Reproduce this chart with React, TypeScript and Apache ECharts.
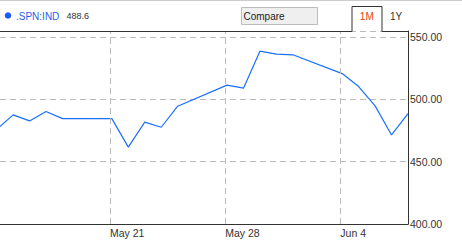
import React, { useEffect, useRef } from "react";
import * as echarts from "echarts";

// ---- data ----
const DATES = [
  "2012-05-14", "2012-05-15", "2012-05-16", "2012-05-17", "2012-05-18",
  "2012-05-21", "2012-05-22", "2012-05-23", "2012-05-24", "2012-05-25",
  "2012-05-28", "2012-05-29", "2012-05-30", "2012-05-31", "2012-06-01",
  "2012-06-04", "2012-06-05", "2012-06-06", "2012-06-07", "2012-06-08",
];
const VALUES = [
  476.0, 487.6, 482.8, 490.3, 484.6,
  484.6, 461.7, 481.8, 477.7, 494.6,
  511.5, 509.1, 538.8, 536.4, 535.9,
  520.8, 510.4, 494.9, 471.5, 488.6,
];
const SAMPLE_TIME = "T02:40:00";
const TICK_DATES = ["2012-05-21", "2012-05-28", "2012-06-04"];
const TICK_LABELS = ["May 21", "May 28", "Jun 4"];
const X_MIN = "2012-05-14T07:30:00";
const X_MAX = "2012-06-08T02:40:00";
const Y_MIN = 400;
const Y_MAX = 555;
const Y_INTERVAL = 50;
const SYMBOL = ".SPN:IND";
const LAST = "488.6";

const FONT = 'Arial, "Liberation Sans", sans-serif';

export default function App() {
  const ref = useRef<HTMLDivElement>(null);
  useEffect(() => {
    document.body.style.margin = "0";
    const chart = echarts.init(ref.current!, null, { renderer: "svg" });
    const seriesData = DATES.map((d, i) => [new Date(d + SAMPLE_TIME).getTime(), VALUES[i]]);
    const gridMarks = TICK_DATES.map((d, i) => ({
      xAxis: new Date(d + "T00:00:00").getTime(),
      label: { formatter: TICK_LABELS[i] },
    }));
    chart.setOption({
      animation: false,
      backgroundColor: "#ffffff",
      grid: { left: 0, right: 54, top: 31, bottom: 16, containLabel: false },
      xAxis: {
        type: "time",
        min: new Date(X_MIN).getTime(),
        max: new Date(X_MAX).getTime(),
        axisLine: { show: true, lineStyle: { color: "#333", width: 1 } },
        axisTick: { show: false },
        axisLabel: { show: false },
        splitLine: { show: false },
      },
      yAxis: {
        type: "value",
        position: "right",
        min: Y_MIN,
        max: Y_MAX,
        interval: Y_INTERVAL,
        axisLine: { show: true, lineStyle: { color: "#333", width: 1 } },
        axisTick: { show: false },
        axisLabel: {
          show: true,
          margin: 2,
          showMaxLabel: false,
          formatter: (v: number) => v.toFixed(2),
          color: "#333",
          fontSize: 10.5,
          fontFamily: FONT,
          padding: [3, 0, 0, 0],
        },
        splitLine: { show: true, lineStyle: { color: "#bbb", type: [6, 4], width: 1 } },
      },
      series: [
        {
          type: "line",
          data: seriesData,
          showSymbol: false,
          symbol: "none",
          clip: true,
          lineStyle: { color: "#1a6fff", width: 1.2 },
          markLine: {
            silent: true,
            symbol: "none",
            lineStyle: { color: "#bbb", type: [6, 4], width: 1 },
            label: {
              show: true,
              position: "start",
              distance: 3,
              align: "left",
              verticalAlign: "top",
              color: "#333",
              fontSize: 10.5,
              fontFamily: FONT,
            },
            data: gridMarks,
          },
        },
      ],
      graphic: [
        { type: "line", shape: { x1: 0, y1: 0.5, x2: 462, y2: 0.5 }, style: { stroke: "#ccc", lineWidth: 1 } },
        { type: "line", z: 100, shape: { x1: 0, y1: 31.5, x2: 352, y2: 31.5 }, style: { stroke: "#333", lineWidth: 1 } },
        { type: "line", z: 100, shape: { x1: 382, y1: 31.5, x2: 408.5, y2: 31.5 }, style: { stroke: "#333", lineWidth: 1 } },
        {
          type: "polyline",
          z: 100,
          shape: { points: [[352, 31.5], [352, 6.5], [382, 6.5], [382, 31.5]] },
          style: { stroke: "#333", lineWidth: 1, fill: null },
        },
        { type: "circle", shape: { cx: 8, cy: 15.5, r: 3.3 }, style: { fill: "#1a5cff" } },
        {
          type: "text", x: 16, y: 16,
          style: { text: SYMBOL, fill: "#2a5ee8", font: `10px ${FONT}`, verticalAlign: "middle", align: "left" },
        },
        {
          type: "text", x: 66.5, y: 16,
          style: { text: LAST, fill: "#333", font: `9px ${FONT}`, verticalAlign: "middle", align: "left" },
        },
        {
          type: "rect", shape: { x: 241.5, y: 7.5, width: 76, height: 17 },
          style: { fill: "#efefef", stroke: "#bbb", lineWidth: 1 },
        },
        {
          type: "text", x: 243.5, y: 16.5,
          style: { text: "Compare", fill: "#222", font: `10px ${FONT}`, verticalAlign: "middle", align: "left" },
        },
        {
          type: "text", x: 366.8, y: 16.5,
          style: { text: "1M", fill: "#e8450e", font: `10px ${FONT}`, verticalAlign: "middle", align: "center" },
        },
        {
          type: "text", x: 390, y: 16.5,
          style: { text: "1Y", fill: "#333", font: `10px ${FONT}`, verticalAlign: "middle", align: "left" },
        },
      ],
    });
    return () => chart.dispose();
  }, []);
  return (
    <div
      ref={ref}
      style={{ position: "fixed", left: 0, top: 0, width: 462, height: 240 }}
    />
  );
}
